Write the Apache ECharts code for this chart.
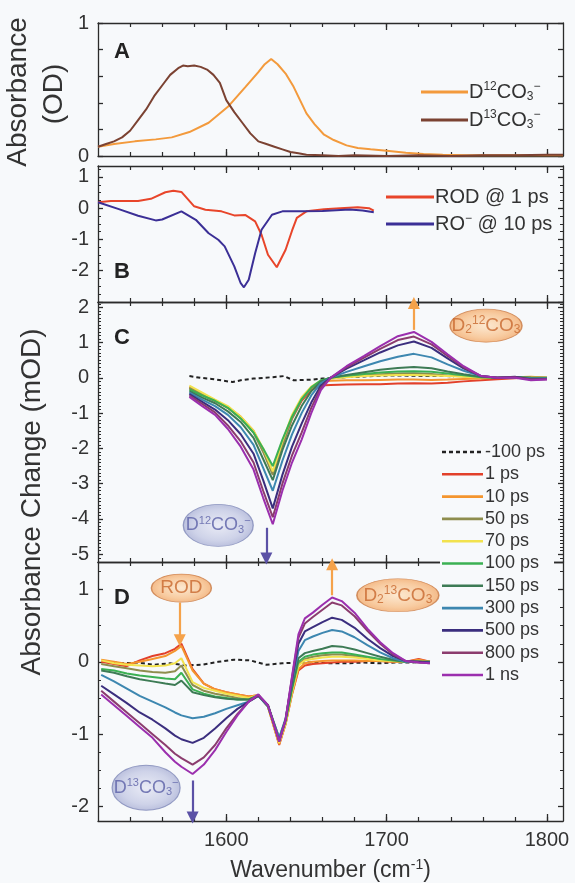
<!DOCTYPE html>
<html><head><meta charset="utf-8">
<script src="https://cdn.jsdelivr.net/npm/echarts@6/dist/echarts.min.js"></script>
<style>html,body{margin:0;padding:0;background:#f7f9fb}#c{width:575px;height:883px}</style>
</head><body><div id="c"></div><script>
// ---------- DATA ----------
// Panel A
const xA_D12 = [1520,1530,1543,1556,1566,1577,1589,1601,1612,1620,1624,1628,1632,1637,1642,1646,1650,1655,1661,1667,1675,1682,1690,1700,1712,1723,1735,1750,1770,1790,1810];
const yA_D12 = [0.07,0.09,0.11,0.125,0.14,0.18,0.25,0.37,0.52,0.63,0.69,0.73,0.69,0.62,0.52,0.42,0.32,0.24,0.16,0.12,0.08,0.06,0.05,0.04,0.025,0.015,0.01,0.005,0.005,0.005,0.005];
const xA_D13 = [1520,1525,1530,1535,1540,1545,1550,1555,1560,1565,1570,1573,1576,1580,1584,1588,1592,1596,1600,1605,1610,1615,1620,1625,1630,1635,1640,1645,1650,1660,1670,1680,1700,1720,1740,1760,1780,1800,1810];
const yA_D13 = [0.07,0.09,0.11,0.14,0.19,0.27,0.35,0.45,0.53,0.61,0.66,0.68,0.675,0.68,0.67,0.65,0.61,0.55,0.42,0.33,0.25,0.17,0.11,0.09,0.07,0.05,0.03,0.02,0.01,0.005,0.0,0.005,0.0,0.005,0.0,0.005,0.005,0.01,0.01];
// Panel B
const xB_ROD = [1520,1528,1545,1553,1562,1567,1572,1580,1587,1597,1605,1612,1618,1622,1626,1631.5,1637,1641,1644,1650,1661,1671,1682,1689,1692];
const yB_ROD = [0.19,0.23,0.23,0.30,0.51,0.56,0.52,0.06,-0.05,-0.10,-0.23,-0.22,-0.42,-0.85,-1.49,-1.89,-1.33,-0.72,-0.31,-0.10,-0.03,0.0,0.03,0.0,-0.08];
const xB_RO = [1520,1533,1545,1556,1560,1572,1581,1589,1595,1599,1605,1609,1611,1614,1618,1622,1628.5,1635,1647,1660,1677,1685,1692];
const yB_RO = [0.19,-0.03,-0.24,-0.39,-0.36,-0.10,-0.37,-0.80,-1.01,-1.22,-1.86,-2.40,-2.53,-2.29,-1.44,-0.69,-0.21,-0.10,-0.10,-0.09,-0.04,-0.07,-0.13];
// Panel C
const xC = [1577,1585,1593,1601,1609,1617,1623,1629,1635,1641,1647,1653,1659,1665,1675,1686,1696,1707,1717,1728,1738,1748,1759,1769,1780,1790,1800];
const xC_dash = [1577,1584,1591,1598,1604,1610,1617,1623,1629,1636,1642,1648,1654,1660,1666,1676,1686,1696,1706,1716,1726,1736,1742];
const yC_m100 = [0.05,0.0,-0.03,-0.08,-0.12,-0.06,-0.02,0.0,0.02,0.05,-0.07,-0.06,-0.05,-0.02,0.0,0.02,0.04,0.06,0.07,0.06,0.05,0.06,0.04];
const yC_1ps  = [-0.3,-0.48,-0.66,-0.85,-1.12,-1.52,-2.05,-2.7,-1.9,-1.15,-0.65,-0.35,-0.22,-0.2,-0.19,-0.18,-0.18,-0.16,-0.15,-0.16,-0.14,-0.1,-0.07,-0.04,-0.01,0.02,0.0];
const yC_10ps = [-0.25,-0.45,-0.64,-0.82,-1.1,-1.5,-2.05,-2.7,-1.85,-1.1,-0.6,-0.3,-0.12,-0.08,-0.07,-0.07,-0.06,-0.05,-0.05,-0.06,-0.05,-0.03,-0.02,0.0,0.02,0.03,0.0];
const yC_50ps = [-0.28,-0.46,-0.64,-0.85,-1.15,-1.55,-2.1,-2.75,-1.9,-1.15,-0.62,-0.28,-0.09,-0.02,0.03,0.07,0.1,0.12,0.13,0.11,0.07,0.04,0.01,0.0,0.01,0.0,0.0];
const yC_70ps = [-0.22,-0.42,-0.62,-0.8,-1.1,-1.5,-2.0,-2.65,-1.8,-1.05,-0.55,-0.25,-0.08,-0.02,0.02,0.05,0.07,0.08,0.08,0.07,0.05,0.03,0.01,0.0,0.01,0.0,0.0];
const yC_100ps = [-0.33,-0.5,-0.65,-0.85,-1.15,-1.55,-2.0,-2.5,-1.75,-1.1,-0.6,-0.27,-0.07,0.0,0.06,0.11,0.15,0.18,0.19,0.17,0.12,0.07,0.02,0.0,0.02,0.0,0.0];
const yC_150ps = [-0.38,-0.56,-0.72,-0.95,-1.25,-1.7,-2.3,-2.9,-2.05,-1.35,-0.8,-0.38,-0.1,0.0,0.08,0.16,0.23,0.28,0.31,0.27,0.18,0.1,0.03,0.0,0.02,0.0,-0.01];
const yC_300ps = [-0.42,-0.62,-0.8,-1.05,-1.4,-1.9,-2.55,-3.2,-2.35,-1.6,-1.0,-0.5,-0.15,0.0,0.17,0.33,0.47,0.6,0.68,0.58,0.38,0.2,0.05,0.0,0.02,-0.02,-0.02];
const yC_500ps = [-0.46,-0.68,-0.9,-1.2,-1.6,-2.15,-2.9,-3.7,-2.75,-1.95,-1.3,-0.7,-0.22,0.0,0.26,0.5,0.72,0.92,1.03,0.85,0.55,0.27,0.05,0.0,0.03,-0.04,-0.03];
const yC_800ps = [-0.50,-0.74,-0.98,-1.35,-1.8,-2.4,-3.2,-3.95,-3.0,-2.2,-1.55,-0.85,-0.28,0.0,0.3,0.57,0.82,1.07,1.17,0.95,0.62,0.3,0.05,0.0,0.02,-0.05,-0.04];
const yC_1ns  = [-0.54,-0.80,-1.05,-1.45,-1.95,-2.6,-3.4,-4.15,-3.2,-2.4,-1.75,-1.0,-0.35,0.0,0.33,0.62,0.90,1.18,1.30,1.02,0.67,0.33,0.05,0.0,0.0,-0.07,-0.05];
// Panel D
const xD = [1522,1530,1538,1546,1554,1562,1568,1572,1579,1586,1593,1600,1607,1614,1620,1626,1633,1637,1641,1645,1649,1654,1660,1666,1672,1680,1688,1696,1704,1712,1720,1727];
const xD_dash = [1525,1535,1545,1555,1565,1575,1585,1595,1605,1615,1625,1635,1645,1655,1665,1675,1685,1695,1705,1715,1725];
const yD_m100 = [0.0,-0.02,-0.01,-0.04,-0.02,-0.05,-0.04,0.0,0.03,0.02,-0.04,-0.02,-0.01,-0.01,-0.02,-0.02,-0.01,-0.02,-0.01,-0.01,0.0];
const yD_1ps  = [0.0,-0.03,-0.06,0.02,0.08,0.12,0.18,0.25,-0.1,-0.3,-0.38,-0.42,-0.45,-0.48,-0.46,-0.62,-1.15,-0.86,-0.45,-0.12,-0.05,-0.03,-0.02,-0.01,0.0,0.0,0.01,0.01,0.0,0.0,0.04,0.0];
const yD_10ps = [0.03,0.0,-0.03,0.0,0.04,0.08,0.15,0.22,-0.12,-0.3,-0.38,-0.42,-0.45,-0.48,-0.46,-0.62,-1.14,-0.86,-0.44,-0.1,-0.02,0.0,0.01,0.02,0.02,0.02,0.01,0.01,0.0,0.0,0.03,0.0];
const yD_50ps = [-0.03,-0.06,-0.09,-0.12,-0.14,-0.15,-0.13,-0.05,-0.32,-0.4,-0.44,-0.47,-0.5,-0.52,-0.46,-0.62,-1.1,-0.84,-0.4,-0.03,0.04,0.07,0.09,0.1,0.1,0.08,0.05,0.03,0.01,0.0,0.0,0.0];
const yD_70ps = [0.02,-0.02,-0.04,-0.05,-0.06,-0.05,-0.02,0.05,-0.28,-0.36,-0.4,-0.44,-0.47,-0.5,-0.46,-0.62,-1.12,-0.85,-0.42,-0.05,0.02,0.04,0.06,0.07,0.07,0.06,0.04,0.02,0.01,0.0,0.0,0.0];
const yD_100ps = [-0.1,-0.12,-0.16,-0.19,-0.21,-0.23,-0.24,-0.15,-0.38,-0.44,-0.48,-0.5,-0.52,-0.52,-0.46,-0.6,-1.08,-0.82,-0.38,0.0,0.07,0.1,0.12,0.13,0.13,0.1,0.07,0.04,0.02,0.0,0.0,0.0];
const yD_150ps = [-0.12,-0.15,-0.2,-0.24,-0.27,-0.3,-0.32,-0.26,-0.42,-0.46,-0.49,-0.51,-0.52,-0.52,-0.47,-0.6,-1.05,-0.8,-0.35,0.05,0.12,0.15,0.18,0.22,0.21,0.17,0.12,0.07,0.03,0.0,0.0,0.0];
const yD_300ps = [-0.18,-0.27,-0.37,-0.47,-0.55,-0.63,-0.7,-0.74,-0.78,-0.76,-0.71,-0.65,-0.6,-0.55,-0.47,-0.62,-1.05,-0.78,-0.28,0.15,0.3,0.35,0.4,0.44,0.42,0.34,0.23,0.13,0.05,0.0,0.0,-0.01];
const yD_500ps = [-0.33,-0.45,-0.57,-0.7,-0.8,-0.92,-1.02,-1.07,-1.12,-1.05,-0.92,-0.78,-0.65,-0.55,-0.47,-0.6,-1.1,-0.8,-0.25,0.25,0.42,0.48,0.55,0.61,0.58,0.47,0.32,0.19,0.08,0.01,0.0,-0.01];
const yD_800ps = [-0.40,-0.55,-0.7,-0.85,-1.0,-1.15,-1.27,-1.33,-1.42,-1.32,-1.15,-0.92,-0.72,-0.55,-0.46,-0.6,-1.1,-0.8,-0.22,0.33,0.53,0.62,0.72,0.82,0.78,0.63,0.43,0.25,0.1,0.01,-0.01,-0.02];
const yD_1ns  = [-0.45,-0.6,-0.75,-0.9,-1.05,-1.25,-1.38,-1.45,-1.55,-1.42,-1.22,-0.97,-0.74,-0.55,-0.45,-0.6,-1.1,-0.8,-0.2,0.38,0.6,0.68,0.79,0.89,0.84,0.68,0.46,0.27,0.12,0.01,-0.01,-0.02];

// Tick values / labels
const xMajor = [1600,1700,1800];
const xMinor = [1540,1560,1580,1600,1620,1640,1660,1680,1700,1720,1740,1760,1780,1800];
const yA_labels = [0,1];
const yA_ticks = [0,0.2,0.4,0.6,0.8,1];
const yB_labels = [-2,-1,0,1];
const yB_ticks = [-3,-2,-1,0,1];
const yB_minor = [-2.75,-2.5,-2.25,-1.75,-1.5,-1.25,-0.75,-0.5,-0.25,0.25,0.5,0.75,1.25];
const yC_labels = [-5,-4,-3,-2,-1,0,1,2];
const yC_minor = [-5.1,-4.9,-4.8,-4.7,-4.6,-4.5,-4.4,-4.3,-4.2,-4.1,-3.9,-3.8,-3.7,-3.6,-3.5,-3.4,-3.3,-3.2,-3.1,-2.9,-2.8,-2.7,-2.6,-2.5,-2.4,-2.3,-2.2,-2.1,-1.9,-1.8,-1.7,-1.6,-1.5,-1.4,-1.3,-1.2,-1.1,-0.9,-0.8,-0.7,-0.6,-0.5,-0.4,-0.3,-0.2,-0.1,0.1,0.2,0.3,0.4,0.5,0.6,0.7,0.8,0.9,1.1,1.2,1.3,1.4,1.5,1.6,1.7,1.8,1.9,2.1];
const yD_labels = [-2,-1,0,1];
const yD_minor = [-1.75,-1.5,-1.25,-0.75,-0.5,-0.25,0.25,0.5,0.75,1.25];

// ---------- CHART ----------
const FONT = "'Liberation Sans', Arial, Helvetica, sans-serif";
const AX = '#2b2b2b';
const BG = '#f7f9fb';
const chart = echarts.init(document.getElementById('c'), null, {renderer:'canvas'});
const grids = [
  {left:98, right:12, top:23, height:133},
  {left:98, right:12, top:166, height:136},
  {left:98, right:12, top:302, height:260},
  {left:98, right:12, top:562, height:260}
];
const yRanges = [[0,1],[-3,1.35],[-5.22,2.15],[-2.2,1.38]];
const yLab = [yA_labels,yB_labels,yC_labels,yD_labels];
const yMaj = [yA_ticks,yB_ticks,yC_labels,yD_labels];
const yMin = [[],yB_minor,yC_minor,yD_minor];
const fmt = v => String(v);
const xAxes = [], yAxes = [];
grids.forEach((g,gi)=>{
  const base = {type:'value', gridIndex:gi, min:1520, max:1810, splitLine:{show:false}};
  xAxes.push(Object.assign({}, base, {position:'bottom',
    axisLine:{show:true, onZero:false, lineStyle:{color:AX,width:1.3}},
    axisTick:{show:true, inside:true, length:7, customValues:xMajor, lineStyle:{color:AX,width:1.3}},
    axisLabel:{show:gi===3, customValues:xMajor, formatter:fmt, margin:9, fontSize:20, color:'#333', fontFamily:FONT},
    name: gi===3 ? 'Wavenumber (cm{sup|-1})' : '', nameLocation:'middle', nameGap:37,
    nameTextStyle:{fontSize:23, color:'#333', fontFamily:FONT, rich:{sup:{fontSize:14, fontFamily:FONT, color:'#333', padding:[0,0,11,0]}}}
  }));
  xAxes.push(Object.assign({}, base, {position:'bottom', axisLine:{show:false, onZero:false},
    axisTick:{show:true, inside:true, length:4, customValues:xMinor, lineStyle:{color:AX,width:1.2}}, axisLabel:{show:false}}));
  xAxes.push(Object.assign({}, base, {position:'top',
    axisLine:{show:true, onZero:false, lineStyle:{color:AX,width:1.3}},
    axisTick:{show:true, inside:true, length:7, customValues:xMajor, lineStyle:{color:AX,width:1.3}}, axisLabel:{show:false}}));
  xAxes.push(Object.assign({}, base, {position:'top', axisLine:{show:false, onZero:false},
    axisTick:{show:true, inside:true, length:4, customValues:xMinor, lineStyle:{color:AX,width:1.2}}, axisLabel:{show:false}}));
  const yb = {type:'value', gridIndex:gi, min:yRanges[gi][0], max:yRanges[gi][1], splitLine:{show:false}};
  ['left','right'].forEach(pos=>{
    yAxes.push(Object.assign({}, yb, {position:pos,
      axisLine:{show:true, onZero:false, lineStyle:{color:AX,width:1.3}},
      axisTick:{show:true, inside:true, length:5, customValues:yMaj[gi], lineStyle:{color:AX,width:1.3}},
      axisLabel:{show:pos==='left', customValues:yLab[gi], formatter:fmt, margin:9, fontSize:20, color:'#333', fontFamily:FONT}}));
    yAxes.push(Object.assign({}, yb, {position:pos, axisLine:{show:false, onZero:false},
      axisTick:{show:yMin[gi].length>0, inside:true, length:3, customValues:yMin[gi].length?yMin[gi]:[0], lineStyle:{color:AX,width:1}},
      axisLabel:{show:false}}));
  });
});

function zip(xs, ys){ return xs.map((x,i)=>[x, ys[i]]); }
function line(name, gi, xs, ys, color, dashed){
  return {type:'line', name, xAxisIndex:gi*4, yAxisIndex:gi*4, data:zip(xs,ys), symbol:'none',
    smooth:false, animation:false,
    lineStyle:{color, width:2, type: dashed?[4,3]:'solid'}, itemStyle:{color}};
}
const tsC = [
  ['-100 ps', yC_m100, '#222222', true],
  ['1 ps', yC_1ps, '#e2402a'],
  ['10 ps', yC_10ps, '#f4952e'],
  ['50 ps', yC_50ps, '#8e8d4e'],
  ['70 ps', yC_70ps, '#f2e24e'],
  ['100 ps', yC_100ps, '#3bb053'],
  ['150 ps', yC_150ps, '#3d7b55'],
  ['300 ps', yC_300ps, '#3d87b0'],
  ['500 ps', yC_500ps, '#3b2e7e'],
  ['800 ps', yC_800ps, '#8b3c6e'],
  ['1 ns', yC_1ns, '#9b2fae']
];
const tsD = [yD_m100,yD_1ps,yD_10ps,yD_50ps,yD_70ps,yD_100ps,yD_150ps,yD_300ps,yD_500ps,yD_800ps,yD_1ns];

const series = [
  line('D12', 0, xA_D12, yA_D12, '#f39a3c'),
  line('D13', 0, xA_D13, yA_D13, '#7b4232'),
  line('ROD', 1, xB_ROD, yB_ROD, '#e8452a'),
  line('RO', 1, xB_RO, yB_RO, '#3b2f96')
];
tsC.forEach((t,i)=>{
  series.push(line(t[0], 2, t[3]?xC_dash:xC, t[1], t[2], t[3]));
  series.push(line(t[0], 3, t[3]?xD_dash:xD, tsD[i], t[2], t[3]));
});

// annotation ellipses and arrows (data coordinates)
const orangeFill = {type:'radial', x:0.5, y:0.5, r:0.6, colorStops:[{offset:0,color:'#fde4c6'},{offset:0.6,color:'#f8c08a'},{offset:1,color:'#ef9a55'}]};
const blueFill = {type:'radial', x:0.5, y:0.5, r:0.6, colorStops:[{offset:0,color:'#e6e8f4'},{offset:0.6,color:'#c4c9e4'},{offset:1,color:'#9aa1cc'}]};
const oStyle = {color:orangeFill, borderColor:'#c97a45', borderWidth:1};
const bStyle = {color:blueFill, borderColor:'#8088b8', borderWidth:1};
const richO = {
  t:{fontSize:19, color:'#c8682e', fontFamily:FONT},
  sb:{fontSize:12, color:'#c8682e', fontFamily:FONT, padding:[9,0,0,0]},
  sp:{fontSize:12, color:'#c8682e', fontFamily:FONT, padding:[0,0,9,0]}
};
const richB = {
  t:{fontSize:18, color:'#5a5fa6', fontFamily:FONT},
  sb:{fontSize:11, color:'#5a5fa6', fontFamily:FONT, padding:[9,0,0,0]},
  sp:{fontSize:11, color:'#5a5fa6', fontFamily:FONT, padding:[0,0,9,0]}
};
function ell(pt, size, style, text, rich){
  return {value:pt, symbolSize:size, itemStyle:style, label:{show:true, position:'inside', formatter:text, rich}};
}
const arrowLine = (p1,p2,color)=>[{coord:p1, lineStyle:{color, width:2.2, type:'solid'}, itemStyle:{color}}, {coord:p2, itemStyle:{color}}];
const mlBase = {silent:true, animation:false, symbol:['none','triangle'], symbolSize:12, label:{show:false}, lineStyle:{type:'solid', width:2.2}};
series.push({type:'scatter', xAxisIndex:8, yAxisIndex:8, symbol:'circle', animation:false, silent:true, z:5,
  data:[
    ell([1762,1.48],[72,33],oStyle,'{t|D}{sb|2}{sp|12}{t|CO}{sb|3}',richO),
    ell([1595,-4.18],[70,42],bStyle,'{t|D}{sp|12}{t|CO}{sb|3}{sp|−}',richB)
  ],
  markLine:Object.assign({}, mlBase, {data:[arrowLine([1717,1.36],[1717,2.12],'#f5a24a'), arrowLine([1625,-4.25],[1625,-5.12],'#5b51a6')]})
});
series.push({type:'scatter', xAxisIndex:12, yAxisIndex:12, symbol:'circle', animation:false, silent:true, z:5,
  data:[
    ell([1572,1.02],[60,28],oStyle,'{t|ROD}',richO),
    ell([1707,0.92],[82,33],oStyle,'{t|D}{sb|2}{sp|13}{t|CO}{sb|3}',richO),
    ell([1550,-1.74],[68,45],bStyle,'{t|D}{sp|13}{t|CO}{sb|3}{sp|−}',richB)
  ],
  markLine:Object.assign({}, mlBase, {data:[arrowLine([1571,0.82],[1571,0.3],'#f5a24a'), arrowLine([1666,0.92],[1666,1.35],'#f5a24a'), arrowLine([1579,-1.64],[1579,-2.15],'#5b51a6')]})
});

const legRich = {
  t:{fontSize:20, color:'#333', fontFamily:FONT},
  sp:{fontSize:12, color:'#333', fontFamily:FONT, padding:[0,0,10,0]},
  sb:{fontSize:12, color:'#333', fontFamily:FONT, padding:[10,0,0,0]}
};
const legendNames = {D12:'{t|D}{sp|12}{t|CO}{sb|3}{sp|−}', D13:'{t|D}{sp|13}{t|CO}{sb|3}{sp|−}', ROD:'{t|ROD @ 1 ps}', RO:'{t|RO}{sp|−}{t| @ 10 ps}'};
const solidIcon = 'path://M0,0H48V3H0Z';
const dashIcon = 'path://M0,0H4V2.4H0Z M7,0H11V2.4H7Z M14,0H18V2.4H14Z M21,0H25V2.4H21Z M28,0H32V2.4H28Z M35,0H39V2.4H35Z M41,0H41.01V2.4H41Z';
const option = {
  backgroundColor:BG,
  animation:false,
  grid:grids,
  xAxis:xAxes,
  yAxis:yAxes,
  legend:[
    {data:['D12','D13'], orient:'vertical', left:416, top:76, itemWidth:47, itemHeight:14, itemGap:6, icon:solidIcon,
      formatter:n=>legendNames[n], textStyle:{rich:legRich, fontSize:20, padding:[0,0,0,-4]}},
    {data:['ROD','RO'], orient:'vertical', left:381, top:182, itemWidth:48, itemHeight:14, itemGap:6, icon:solidIcon,
      formatter:n=>legendNames[n], textStyle:{rich:legRich, fontSize:20, padding:[0,0,0,-4]}},
    {data:tsC.map(t=>({name:t[0], icon: t[3]?dashIcon:solidIcon})), orient:'vertical', left:440, top:441, itemWidth:41, itemHeight:14, itemGap:4.3,
      backgroundColor:BG, padding:[2,9,2,2], z:10,
      textStyle:{fontSize:18, lineHeight:18, color:'#333', fontFamily:FONT, padding:[0,0,0,-3]}}
  ],
  graphic:[
    {type:'text', x:18, y:92, rotation:Math.PI/2, style:{text:'Absorbance', font:'28px '+FONT, fill:'#333', textAlign:'center', textVerticalAlign:'middle'}},
    {type:'text', x:54, y:94, rotation:Math.PI/2, style:{text:'(OD)', font:'28px '+FONT, fill:'#333', textAlign:'center', textVerticalAlign:'middle'}},
    {type:'text', x:32, y:502, rotation:Math.PI/2, style:{text:'Absorbance Change (mOD)', font:'28px '+FONT, fill:'#333', textAlign:'center', textVerticalAlign:'middle'}},
    {type:'text', x:114, y:41, style:{text:'A', font:'bold 22px '+FONT, fill:'#222'}},
    {type:'text', x:114, y:261, style:{text:'B', font:'bold 22px '+FONT, fill:'#222'}},
    {type:'text', x:114, y:327, style:{text:'C', font:'bold 22px '+FONT, fill:'#222'}},
    {type:'text', x:114, y:587, style:{text:'D', font:'bold 22px '+FONT, fill:'#222'}}
  ],
  series
};
chart.setOption(option);
</script></body></html>
